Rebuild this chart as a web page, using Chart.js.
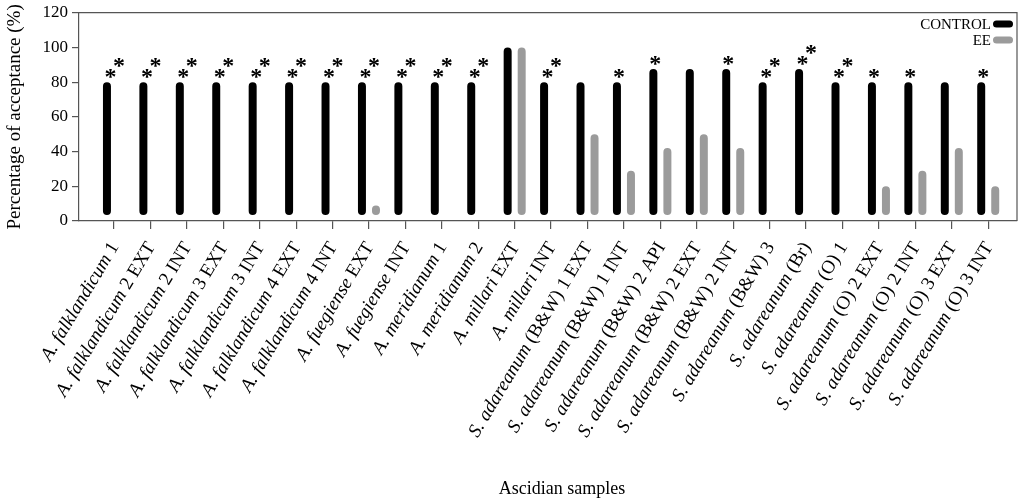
<!DOCTYPE html>
<html>
<head>
<meta charset="utf-8">
<script src="https://cdn.jsdelivr.net/npm/chart.js@4.4.1/dist/chart.umd.min.js"></script>
<style>
  html, body { margin: 0; padding: 0; background: #fff; }
</style>
</head>
<body>
<canvas id="chart" width="1024" height="503"></canvas>
<script>
// sample names, split later into italic binomial + plain suffix
const categories = [
  'A. falklandicum 1', 'A. falklandicum 2 EXT', 'A. falklandicum 2 INT',
  'A. falklandicum 3 EXT', 'A. falklandicum 3 INT', 'A. falklandicum 4 EXT',
  'A. falklandicum 4 INT', 'A. fuegiense EXT', 'A. fuegiense INT',
  'A. meridianum 1', 'A. meridianum 2', 'A. millari EXT', 'A. millari INT',
  'S. adareanum (B&W) 1 EXT', 'S. adareanum (B&W) 1 INT', 'S. adareanum (B&W) 2 API',
  'S. adareanum (B&W) 2 EXT', 'S. adareanum (B&W) 2 INT', 'S. adareanum (B&W) 3',
  'S. adareanum (Br)', 'S. adareanum (O) 1', 'S. adareanum (O) 2 EXT',
  'S. adareanum (O) 2 INT', 'S. adareanum (O) 3 EXT', 'S. adareanum (O) 3 INT'
];
const control = [80, 80, 80, 80, 80, 80, 80, 80, 80, 80, 80, 100, 80,
  80, 80, 87.5, 87.5, 87.5, 80, 87.5, 80, 80, 80, 80, 80];
const ee = [null, null, null, null, null, null, null, 9, null, null, null, 100, null,
  50, 29, 42, 50, 42, null, null, null, 20, 29, 42, 20];
// number of asterisks above each control bar
const stars = [2, 2, 2, 2, 2, 2, 2, 2, 2, 2, 2, 0, 2, 0, 1, 1, 0, 1, 2, 2, 2, 1, 1, 0, 1];
const yTicks = [0, 20, 40, 60, 80, 100, 120];

const serif = 'Liberation Serif';
const axisColor = '#555';

const extras = {
  id: 'extras',
  afterDraw(chart) {
    const { ctx, chartArea: a, scales } = chart;
    ctx.save();
    // box around plot
    ctx.strokeStyle = axisColor;
    ctx.lineWidth = 1.2;
    ctx.beginPath();
    ctx.moveTo(a.left, a.top);
    ctx.lineTo(a.right, a.top);
    ctx.lineTo(a.right, a.bottom);
    ctx.stroke();

    // asterisks
    const meta = chart.getDatasetMeta(0);
    ctx.fillStyle = '#000';
    ctx.font = 'bold 24px "' + serif + '"';
    ctx.textAlign = 'center';
    ctx.textBaseline = 'alphabetic';
    stars.forEach((n, i) => {
      const el = meta.data[i];
      if (!el || !n) return;
      const lift = 12.5;
      if (n === 1) {
        ctx.fillText('*', el.x + 2, el.y - 11 + lift);
      } else {
        ctx.fillText('*', el.x + 3.5, el.y - 11 + lift);
        ctx.fillText('*', el.x + 12, el.y - 22 + lift);
      }
    });

    // x labels: italic binomial + upright suffix
    const xs = scales.x;
    categories.forEach((lab, i) => {
      const m = lab.match(/^([AS]\. \w+)\s*(.*)$/);
      const sp = m[1], rest = m[2] ? ' ' + m[2] : '';
      const x = xs.getPixelForValue(i);
      ctx.save();
      ctx.translate(x + 1, a.bottom + 23);
      ctx.rotate(-59 * Math.PI / 180);
      ctx.textAlign = 'right';
      ctx.textBaseline = 'middle';
      ctx.font = '19px "' + serif + '"';
      ctx.fillText(rest, 0, 0);
      const w = ctx.measureText(rest).width;
      ctx.font = 'italic 19px "' + serif + '"';
      ctx.fillText(sp, -w, 0);
      ctx.restore();
    });

    // x axis title, sits a bit right of centre in the original
    ctx.font = '18px "' + serif + '"';
    ctx.textAlign = 'center';
    ctx.textBaseline = 'middle';
    ctx.fillText('Ascidian samples', 562, 489);

    // legend, text then pill
    const items = [
      { text: 'CONTROL', color: chart.data.datasets[0].backgroundColor, y: 24 },
      { text: 'EE', color: chart.data.datasets[1].backgroundColor, y: 40 }
    ];
    ctx.font = '15px "' + serif + '"';
    ctx.textAlign = 'right';
    ctx.textBaseline = 'middle';
    items.forEach(it => {
      ctx.fillStyle = '#000';
      ctx.fillText(it.text, a.right - 26, it.y + 1);
      ctx.fillStyle = it.color;
      ctx.beginPath();
      ctx.roundRect(a.right - 24, it.y - 3.5, 20, 7, 3.5);
      ctx.fill();
    });
    ctx.restore();
  }
};

new Chart(document.getElementById('chart'), {
  type: 'bar',
  data: {
    datasets: [
      {
        label: 'CONTROL',
        data: control.map((v, i) => ({ x: i, y: v })),
        backgroundColor: '#000000',
        base: 3.5,
        borderRadius: 4,
        borderSkipped: false
      },
      {
        label: 'EE',
        data: ee.map((v, i) => ({ x: i, y: v })),
        backgroundColor: '#9b9b9b',
        base: 3.5,
        borderRadius: 4,
        borderSkipped: false
      }
    ]
  },
  options: {
    responsive: false,
    animation: false,
    barPercentage: 0.57,
    categoryPercentage: 0.77,
    layout: { padding: { top: 12.7, right: 7, bottom: 0, left: 0 } },
    plugins: {
      legend: { display: false },
      tooltip: { enabled: false }
    },
    scales: {
      x: {
        type: 'linear',
        offset: false,
        min: -0.96,
        max: 24.79,
        afterBuildTicks: s => { s.ticks = categories.map((_, i) => ({ value: i })); },
        afterFit: s => { s.height = 282; s.paddingLeft = 0; s.paddingRight = 0; },
        ticks: { display: false },
        grid: { offset: false, drawOnChartArea: false, drawTicks: true, tickLength: 8, color: axisColor, lineWidth: 1.2 },
        border: { color: axisColor, width: 1.2 }
      },
      y: {
        min: 0,
        max: 120,
        afterBuildTicks: s => { s.ticks = yTicks.map(v => ({ value: v })); },
        afterFit: s => { s.width = 79; s.paddingTop = 0; s.paddingBottom = 0; },
        ticks: { color: '#000', font: { family: serif, size: 17 }, padding: 4 },
        grid: { drawOnChartArea: false, drawTicks: true, tickLength: 7, color: axisColor, lineWidth: 1.2 },
        border: { color: axisColor, width: 1.2 },
        title: {
          display: true,
          text: 'Percentage of acceptance (%)',
          color: '#000',
          font: { family: serif, size: 19 },
          padding: { top: 4, bottom: 0 }
        }
      }
    }
  },
  plugins: [extras]
});
</script>
</body>
</html>
